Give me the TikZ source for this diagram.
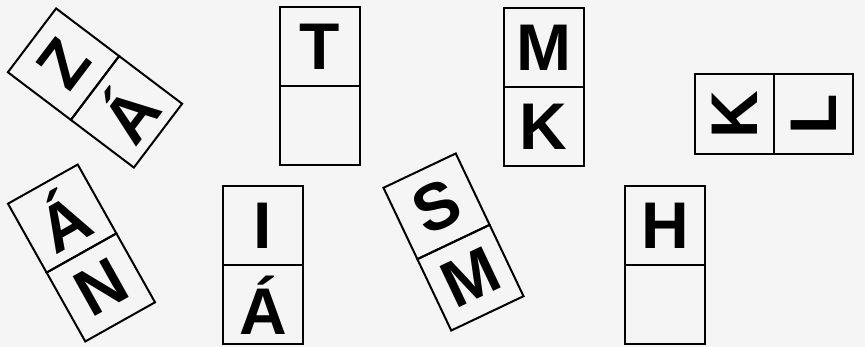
\documentclass[tikz,border=0pt]{standalone}
\usepackage{fontspec}
\setsansfont{Liberation Sans}

\begin{document}
\begin{tikzpicture}[x=1pt,y=-1pt,
  tile/.style={draw,line width=2pt,minimum width=80pt,minimum height=79pt,inner sep=0pt,transform shape},
  letter/.style={font=\fontsize{66}{66}\selectfont\sffamily\bfseries}]
\useasboundingbox (0,0) rectangle (865,347);
\fill[gray!8] (0,0) rectangle (865,347);
% domino tiles: name / centre x / centre y / turn / upper letter / lower letter
\foreach \nm/\cx/\cy/\ang/\up/\dn in {za/95/88/52.9/Z/Á, t/320/86.5/0/T/, mk/543.5/87/0/M/K,
  kl/774/114.5/90/K/L, an/81.5/253/29.3/Á/N, ia/263/265.5/0/I/Á, sm/453.5/242/25.4/S/M, h/665/265/0/H/}
{
\begin{scope}[shift={(\cx,\cy)},rotate=\ang]
\node[tile,letter] (\nm-a) at (0,-39.5) {\up};
\node[tile,letter] (\nm-b) at (0,39.5) {\dn};
\end{scope}
}
\end{tikzpicture}
\end{document}
